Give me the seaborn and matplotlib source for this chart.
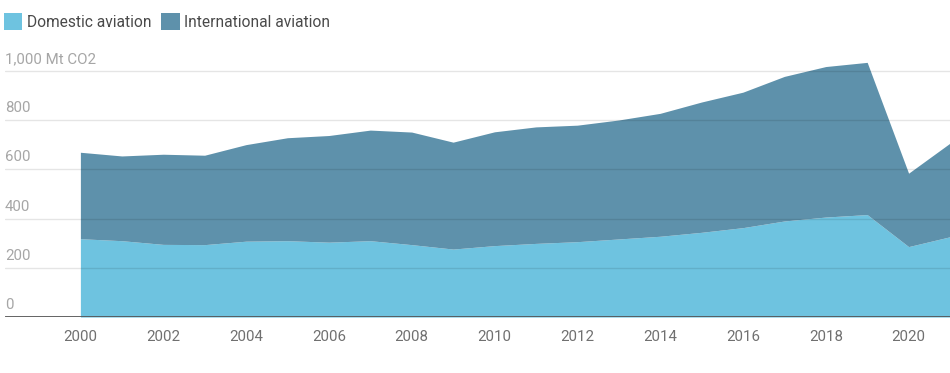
import numpy as np
import pandas as pd
import matplotlib.pyplot as plt
import seaborn as sns
from matplotlib.patches import Patch
from matplotlib.transforms import blended_transform_factory

# dados (Mt CO2)
years = list(range(2000, 2022))
domestic = [318, 310, 295, 294, 308, 310, 304, 310, 294, 276, 290,
            299, 306, 317, 328, 344, 363, 390, 406, 416, 286, 326]
total = [669, 654, 661, 657, 700, 728, 737, 759, 751, 710, 752,
         772, 779, 800, 827, 873, 913, 977, 1017, 1034, 584, 706]
international = [t - d for t, d in zip(total, domestic)]

series_names = ["Domestic aviation", "International aviation"]
y_ticks = [0, 200, 400, 600, 800, 1000]
y_labels = ["0", "200", "400", "600", "800", "1,000 Mt CO2"]
x_ticks = list(range(2000, 2021, 2))

df = pd.DataFrame({"year": years, "Domestic aviation": domestic,
                   "International aviation": international})

sns.set_theme(style="white")
plt.rcParams['font.family'] = ['Roboto', 'DejaVu Sans']

cores = ["#6ec3e0", "#5e91ab"]

fig = plt.figure(figsize=(9.5, 3.73), dpi=100)
ax = fig.add_axes([0.0053, 0.150, 0.9947, 0.700])

ax.stackplot(df["year"], df["Domestic aviation"], df["International aviation"],
             colors=cores, linewidth=0, zorder=2)

ax.set_xlim(1998.18, 2021)
ax.set_ylim(0, 1060)

# grelha horizontal (por cima das áreas, semi-transparente)
for v in y_ticks[1:]:
    ax.axhline(v, color="black", alpha=0.1, linewidth=1, zorder=3)
ax.axhline(0, color="#555555", linewidth=2, zorder=4)

ax.set_yticks([])
trans = blended_transform_factory(ax.transAxes, ax.transData)
for v, lab in zip(y_ticks, y_labels):
    ax.text(0.0, v + 20, lab, transform=trans, ha="left", va="bottom",
            fontsize=10.8, color="#a6a6a6", zorder=5)

ax.set_xticks(x_ticks)
ax.set_xticklabels([str(x) for x in x_ticks], fontsize=10.8, color="#707070")
ax.tick_params(axis="x", length=0, pad=9)

for s in ax.spines.values():
    s.set_visible(False)

handles = [Patch(facecolor=c, edgecolor="none") for c in cores]
fig.legend(handles, series_names, loc="upper left", bbox_to_anchor=(-0.001, 0.977),
           ncol=2, frameon=False, fontsize=11.2, handlelength=1.2,
           handleheight=1.3, handletextpad=0.3, columnspacing=0.6,
           borderpad=0.3, borderaxespad=0.0, labelcolor="#4a4a4a")

fig.savefig("out.png", dpi=100)
